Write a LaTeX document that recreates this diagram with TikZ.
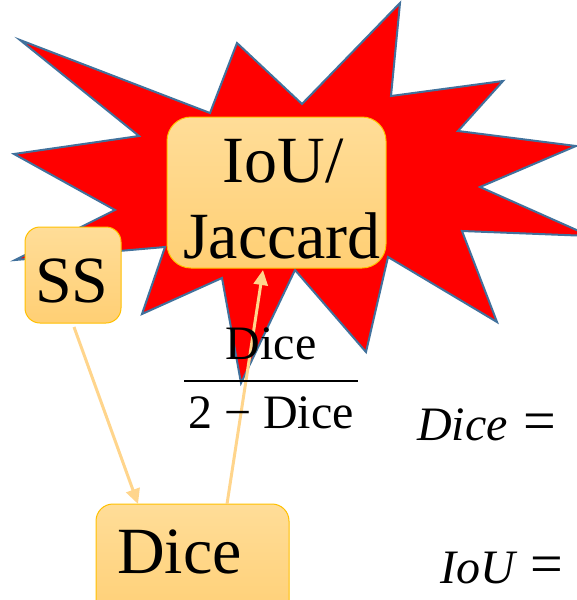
\documentclass[tikz,border=0pt]{standalone}
\usepackage{fontspec}
\setmainfont{Liberation Serif}
\usetikzlibrary{arrows.meta,calc}

\definecolor{starred}{RGB}{255,0,0}
\definecolor{starline}{RGB}{65,113,156}
\definecolor{boxtop}{RGB}{255,221,152}
\definecolor{boxbot}{RGB}{255,207,116}
\definecolor{boxline}{RGB}{255,192,0}
\definecolor{arrowcol}{RGB}{255,213,140}

\newcommand{\bigeq}{\hspace{16pt}{\fontsize{58}{56}\selectfont\upshape =}}

\tikzset{
  termbox/.style={draw=boxline, line width=1pt, top color=boxtop, bottom color=boxbot,
    inner sep=0pt, outer sep=0pt},
  bigtext/.style={font=\fontsize{66}{76}\selectfont, inner sep=0pt, anchor=base},
  eqtext/.style={font=\fontsize{48}{56}\selectfont, inner sep=0pt, anchor=base},
  link/.style={draw=arrowcol, line width=3pt, -{Triangle[length=15pt,width=14pt]}},
}

\begin{document}
\begin{tikzpicture}[x=1pt,y=-1pt]
\useasboundingbox (0,0) rectangle (577,600);
\clip (0,0) rectangle (577,600);

% explosion burst behind the IoU box
\draw[fill=starred, draw=starline, line width=2pt, line join=miter]
  (20,40) -- (210,113) -- (237,43) -- (302,104) -- (400,3) -- (391,96)
  -- (503,81) -- (458,131) -- (576,146) -- (480,187) -- (590,236)
  -- (462,231) -- (497,322) -- (388,257) -- (366,352) -- (295,270)
  -- (241,383) -- (222,278) -- (142,314) -- (165,247) -- (15,260)
  -- (115,210) -- (14,154) -- (139,136) -- cycle;

% metric boxes
\node[termbox, rounded corners=24pt, minimum width=219pt, minimum height=151pt]
  (jac) at (276.5,192.5) {};
\node[termbox, rounded corners=15pt, minimum width=96pt, minimum height=96pt]
  (ss) at (73,275) {};
\node[termbox, rounded corners=17pt, minimum width=193pt, minimum height=120pt]
  (dice) at (192.5,564) {};

% connectors
\coordinate (ssout) at ($(ss.south)+(1,4)$);
\coordinate (dicein) at ($(dice.north west)+(42,0)$);
\coordinate (diceout) at ($(dice.north west)+(131,0)$);
\coordinate (jacin) at ($(jac.south west)+(96,2)$);
\draw[link] (ssout) -- (dicein);
\draw[link] (diceout) -- (jacin);

% box labels
\node[bigtext] (l1) at (283,182) {IoU/};
\node[bigtext] (l2) at (282,258) {Jaccard};
\node[bigtext] (l3) at (72,302) {SS};
\node[bigtext, anchor=base west] (l4) at (117,573) {Dice};

% IoU as a function of Dice
\node[eqtext] (fnum) at (271,359) {Dice};
\node[eqtext] (fden) at (271,428) {2 − Dice};
\draw[line width=2.6pt] (184,381) -- (358,381);

% equation heads on the right
\node[eqtext, anchor=base west, font=\fontsize{48}{56}\selectfont\itshape] (eq1) at (417,440) {Dice\bigeq};
\node[eqtext, anchor=base west, font=\fontsize{48}{56}\selectfont\itshape] (eq2) at (440,583) {IoU\bigeq};
\end{tikzpicture}
\end{document}
